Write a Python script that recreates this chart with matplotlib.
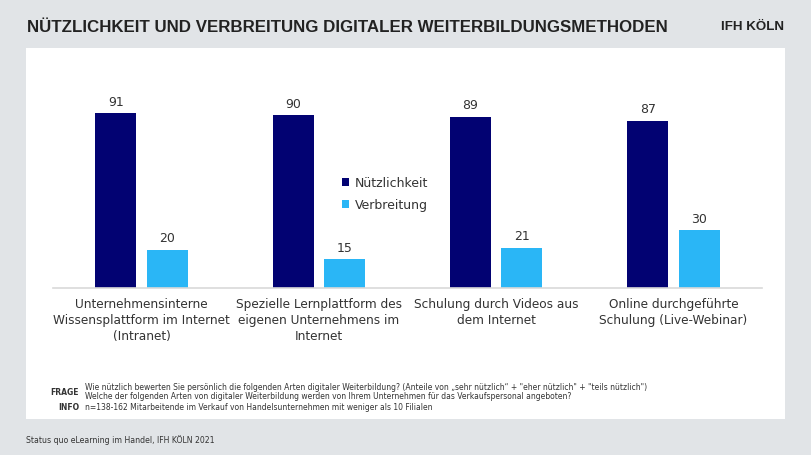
import matplotlib
matplotlib.use("Agg")
import matplotlib.pyplot as plt
import numpy as np

categories = [
    "Unternehmensinterne\nWissensplattform im Internet\n(Intranet)",
    "Spezielle Lernplattform des\neigenen Unternehmens im\nInternet",
    "Schulung durch Videos aus\ndem Internet",
    "Online durchgeführte\nSchulung (Live-Webinar)",
]
nuetzlichkeit = [91, 90, 89, 87]
verbreitung = [20, 15, 21, 30]
series_names = ["Nützlichkeit", "Verbreitung"]

W, H = 812, 456
fig = plt.figure(figsize=(W / 100, H / 100), dpi=100)
fig.patch.set_facecolor("#e1e4e7")

def fx(x):
    return x / W

def fy(y):
    return 1 - y / H

# white panel
bg = fig.add_axes([fx(26), fy(420), fx(785) - fx(26), fy(49) - fy(420)], zorder=-1)
bg.set_facecolor("white")
bg.set_xticks([]); bg.set_yticks([])
for s in bg.spines.values():
    s.set_visible(False)

dark = "#020272"
light = "#2ab6f6"
txt = "#333333"

ax_left, ax_right = 53, 762
ax_bottom, ax_top = 289, 289 - 1.923 * 100
ax = fig.add_axes([fx(ax_left), fy(ax_bottom), fx(ax_right) - fx(ax_left), fy(ax_top) - fy(ax_bottom)], zorder=1)
ax.set_facecolor("none")

x = np.arange(len(categories))
bw = 0.232
off = 0.145
b1 = ax.bar(x - off, nuetzlichkeit, width=bw, color=dark, label=series_names[0], zorder=2)
b2 = ax.bar(x + off, verbreitung, width=bw, color=light, label=series_names[1], zorder=2)
for bars, vals in ((b1, nuetzlichkeit), (b2, verbreitung)):
    for r, v in zip(bars, vals):
        ax.text(r.get_x() + r.get_width() / 2, v + 2.8, str(v), ha="center", va="bottom",
                fontsize=9, color=txt, family="DejaVu Sans", clip_on=False)

ax.set_xlim(-0.5, len(categories) - 0.5)
ax.set_ylim(0, 100)
for s in ["top", "right", "left"]:
    ax.spines[s].set_visible(False)
ax.spines["bottom"].set_color("#d9d9d9")
ax.spines["bottom"].set_linewidth(1.2)
ax.set_yticks([])
ax.set_xticks(x)
ax.set_xticklabels(categories, fontsize=8.7, color=txt, family="DejaVu Sans", linespacing=1.3)
ax.tick_params(axis="x", length=0, pad=6.5)

leg = ax.legend(loc="upper left", bbox_to_anchor=((342 - ax_left) / (ax_right - ax_left), (ax_bottom - 177) / (ax_bottom - ax_top)),
                frameon=False, fontsize=9, handlelength=0.6, handleheight=0.6, handletextpad=0.45,
                labelspacing=0.75, borderaxespad=0, borderpad=0)
for t in leg.get_texts():
    t.set_color(txt)

# title
fig.text(fx(27), fy(28), "NÜTZLICHKEIT UND VERBREITUNG DIGITALER WEITERBILDUNGSMETHODEN",
         fontsize=12.2, fontweight="bold", color="#222222", family="Liberation Sans",
         va="center", ha="left")
fig.text(fx(784), fy(27), "IFH KÖLN", fontsize=9.6, fontweight="bold", color="#222222",
         family="Liberation Sans", va="center", ha="right")

# footnotes
fs = 5.5
fig.text(fx(79), fy(393), "FRAGE", fontsize=fs, fontweight="bold", color=txt, ha="right", va="center")
fig.text(fx(85), fy(388), "Wie nützlich bewerten Sie persönlich die folgenden Arten digitaler Weiterbildung? (Anteile von \u201esehr nützlich\u201c + \"eher nützlich\" + \"teils nützlich\")",
         fontsize=fs, color=txt, ha="left", va="center")
fig.text(fx(85), fy(397), "Welche der folgenden Arten von digitaler Weiterbildung werden von Ihrem Unternehmen für das Verkaufspersonal angeboten?",
         fontsize=fs, color=txt, ha="left", va="center")
fig.text(fx(79), fy(408), "INFO", fontsize=fs, fontweight="bold", color=txt, ha="right", va="center")
fig.text(fx(85), fy(408), "n=138-162 Mitarbeitende im Verkauf von Handelsunternehmen mit weniger als 10 Filialen",
         fontsize=fs, color=txt, ha="left", va="center")

fig.text(fx(26), fy(440), "Status quo eLearning im Handel, IFH KÖLN 2021", fontsize=5.6, color=txt,
         ha="left", va="center")

fig.savefig("out.png", dpi=100, facecolor=fig.get_facecolor())
